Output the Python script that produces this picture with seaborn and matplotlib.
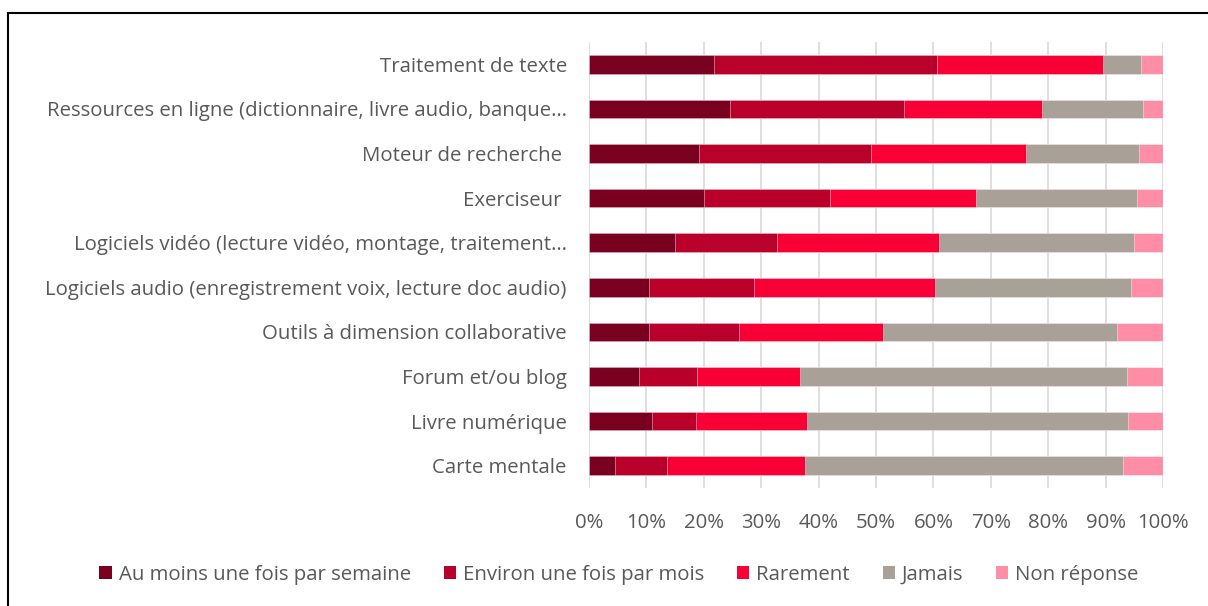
import matplotlib
matplotlib.use("Agg")
import matplotlib.pyplot as plt
import seaborn as sns
import numpy as np
import pandas as pd
from matplotlib.patches import Patch, Rectangle

categories = [
    "Traitement de texte",
    "Ressources en ligne (dictionnaire, livre audio, banque…",
    "Moteur de recherche ",
    "Exerciseur ",
    "Logiciels vidéo (lecture vidéo, montage, traitement…",
    "Logiciels audio (enregistrement voix, lecture doc audio)",
    "Outils à dimension collaborative",
    "Forum et/ou blog",
    "Livre numérique",
    "Carte mentale",
]
series = ["Au moins une fois par semaine", "Environ une fois par mois",
          "Rarement", "Jamais", "Non réponse"]
semaine = [21.7, 24.5, 19.1, 20.0, 15.0, 10.5, 10.5, 8.7, 11.0, 4.5]
mois = [38.9, 30.4, 30.0, 22.0, 17.7, 18.2, 15.6, 10.1, 7.6, 9.1]
rarement = [28.9, 24.0, 27.0, 25.5, 28.2, 31.6, 25.2, 17.9, 19.3, 24.1]
jamais = [6.6, 17.6, 19.8, 28.0, 34.0, 34.1, 40.7, 57.0, 56.0, 55.3]
non_reponse = [3.9, 3.5, 4.1, 4.5, 5.1, 5.6, 8.0, 6.3, 6.1, 7.0]
xticks = [0, 10, 20, 30, 40, 50, 60, 70, 80, 90, 100]

colors = ["#7A0020", "#B8002B", "#F80035", "#A9A097", "#FF8DA5"]
text_color = "#595959"

sns.set_theme(style="white")
plt.rcParams["font.family"] = ["Open Sans", "DejaVu Sans"]

df = pd.DataFrame({"cat": categories, series[0]: semaine, series[1]: mois,
                   series[2]: rarement, series[3]: jamais, series[4]: non_reponse})
cum = df[series].cumsum(axis=1)
cum = cum.div(cum[series[-1]], axis=0) * 100

fig = plt.figure(figsize=(12.08, 6.06), dpi=100)
ax = fig.add_axes([589 / 1208, 1 - 488 / 606, (1163 - 589) / 1208, (488 - 42) / 606])

for i in reversed(range(len(series))):
    sns.barplot(x=cum[series[i]].values, y=df["cat"], color=colors[i],
                orient="h", width=0.42, ax=ax, saturation=1, zorder=3,
                linewidth=0.6, edgecolor="#FFFFFF80")

ax.set_xlim(0, 100)
ax.set_ylim(len(categories) - 0.5, -0.5)
ax.set_xticks(xticks)
ax.set_xticklabels([f"{t}%" for t in xticks])
ax.set_xlabel("")
ax.set_ylabel("")
ax.grid(axis="x", color="#D9D9D9", linewidth=1.2, zorder=0)
ax.set_axisbelow(True)
for s in ax.spines.values():
    s.set_visible(False)
ax.tick_params(axis="y", length=0, pad=16, labelsize=14.7, labelcolor=text_color)
ax.tick_params(axis="x", length=0, pad=18, labelsize=14.7, labelcolor=text_color)

handles = [Patch(facecolor=c, edgecolor="none") for c in colors]
fig.legend(handles, series, loc="center", bbox_to_anchor=(0.5125, 1 - 575 / 606),
           ncol=5, frameon=False, fontsize=14.7, labelcolor=text_color,
           handlelength=0.6, handleheight=0.6, handletextpad=0.35,
           columnspacing=1.6)

fig.patches.append(Rectangle((8 / 1208, -0.01), 1.1, 1 - 13 / 606 + 0.01,
                             transform=fig.transFigure, fill=False,
                             edgecolor="black", linewidth=1.5))

fig.savefig("out.png", dpi=100)
